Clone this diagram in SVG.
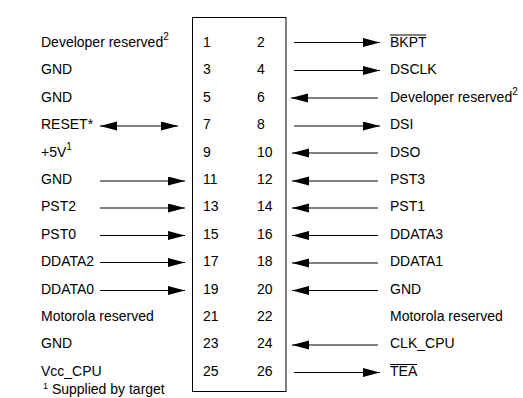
<svg xmlns="http://www.w3.org/2000/svg" width="523" height="398" viewBox="0 0 523 398">
<style>
text{font-family:"Liberation Sans",Arial,sans-serif;font-size:14px;fill:#000}
.sup{font-size:10px}
.fsup{font-size:9px}
.c line{stroke:#000;stroke-width:1;marker-end:url(#ah)}
.ol{stroke:#000;stroke-width:1}
</style>
<defs>
<marker id="ah" markerUnits="userSpaceOnUse" markerWidth="18" markerHeight="10" refX="17" refY="4.5" orient="auto-start-reverse" viewBox="0 0 18 10">
<path d="M0,0 L17,4.5 L0,9 z" fill="#000"/>
</marker>
</defs>
<rect width="523" height="398" fill="#fff"/>
<g id="connector-box">
<rect x="192.5" y="17.5" width="93.5" height="374" fill="none" stroke="#000" stroke-width="1"/>
</g>
<g id="pins">
<text x="203" y="47">1</text><text x="257" y="47">2</text>
<text x="203" y="74.4">3</text><text x="257" y="74.4">4</text>
<text x="203" y="101.8">5</text><text x="257" y="101.8">6</text>
<text x="203" y="129.2">7</text><text x="257" y="129.2">8</text>
<text x="203" y="156.6">9</text><text x="257" y="156.6">10</text>
<text x="203" y="184">11</text><text x="257" y="184">12</text>
<text x="203" y="211.4">13</text><text x="257" y="211.4">14</text>
<text x="203" y="238.8">15</text><text x="257" y="238.8">16</text>
<text x="203" y="266.2">17</text><text x="257" y="266.2">18</text>
<text x="203" y="293.6">19</text><text x="257" y="293.6">20</text>
<text x="203" y="321">21</text><text x="257" y="321">22</text>
<text x="203" y="348.4">23</text><text x="257" y="348.4">24</text>
<text x="203" y="375.8">25</text><text x="257" y="375.8">26</text>
</g>
<g id="left-labels">
<text x="41" y="47">Developer reserved<tspan class="sup" dy="-7">2</tspan></text>
<text x="41" y="74.4">GND</text>
<text x="41" y="101.8">GND</text>
<text x="41" y="129.2">RESET*</text>
<text x="41" y="156.6">+5V<tspan class="sup" dy="-7">1</tspan></text>
<text x="41" y="184">GND</text>
<text x="41" y="211.4">PST2</text>
<text x="41" y="238.8">PST0</text>
<text x="41" y="266.2">DDATA2</text>
<text x="41" y="293.6">DDATA0</text>
<text x="41" y="321">Motorola reserved</text>
<text x="41" y="348.4">GND</text>
<text x="41" y="375.8">Vcc_CPU</text>
</g>
<g id="right-labels">
<text x="390" y="47">BKPT</text>
<line class="ol" x1="390" y1="35" x2="426" y2="35"/>
<text x="390" y="74.4">DSCLK</text>
<text x="390" y="101.8">Developer reserved<tspan class="sup" dy="-7">2</tspan></text>
<text x="390" y="129.2">DSI</text>
<text x="390" y="156.6">DSO</text>
<text x="390" y="184">PST3</text>
<text x="390" y="211.4">PST1</text>
<text x="390" y="238.8">DDATA3</text>
<text x="390" y="266.2">DDATA1</text>
<text x="390" y="293.6">GND</text>
<text x="390" y="321">Motorola reserved</text>
<text x="390" y="348.4">CLK_CPU</text>
<text x="390" y="375.8">TEA</text>
<line class="ol" x1="390" y1="364.5" x2="417" y2="364.5"/>
</g>
<g id="footnote">
<text x="43" y="393.5"><tspan class="fsup" dy="-5">1</tspan><tspan dy="5"> Supplied by target</tspan></text>
</g>
<g id="connectors" class="c">
<line x1="294" y1="42.5" x2="380" y2="42.5"/>
<line x1="294" y1="70.5" x2="380" y2="70.5"/>
<line x1="378" y1="98" x2="291" y2="98"/>
<line x1="294" y1="126" x2="380" y2="126"/>
<line x1="378" y1="153" x2="292" y2="153"/>
<line x1="378" y1="181" x2="292" y2="181"/>
<line x1="378" y1="208" x2="292" y2="208"/>
<line x1="378" y1="235.5" x2="292" y2="235.5"/>
<line x1="378" y1="263" x2="292" y2="263"/>
<line x1="378" y1="290.5" x2="292" y2="290.5"/>
<line x1="378" y1="345" x2="292" y2="345"/>
<line x1="294" y1="372.5" x2="380" y2="372.5"/>
<line x1="100" y1="126" x2="178" y2="126" style="marker-start:url(#ah)"/>
<line x1="100" y1="181" x2="185" y2="181"/>
<line x1="100" y1="208" x2="185" y2="208"/>
<line x1="100" y1="235.5" x2="185" y2="235.5"/>
<line x1="100" y1="262.5" x2="185" y2="262.5"/>
<line x1="100" y1="290.5" x2="185" y2="290.5"/>
</g>
</svg>
